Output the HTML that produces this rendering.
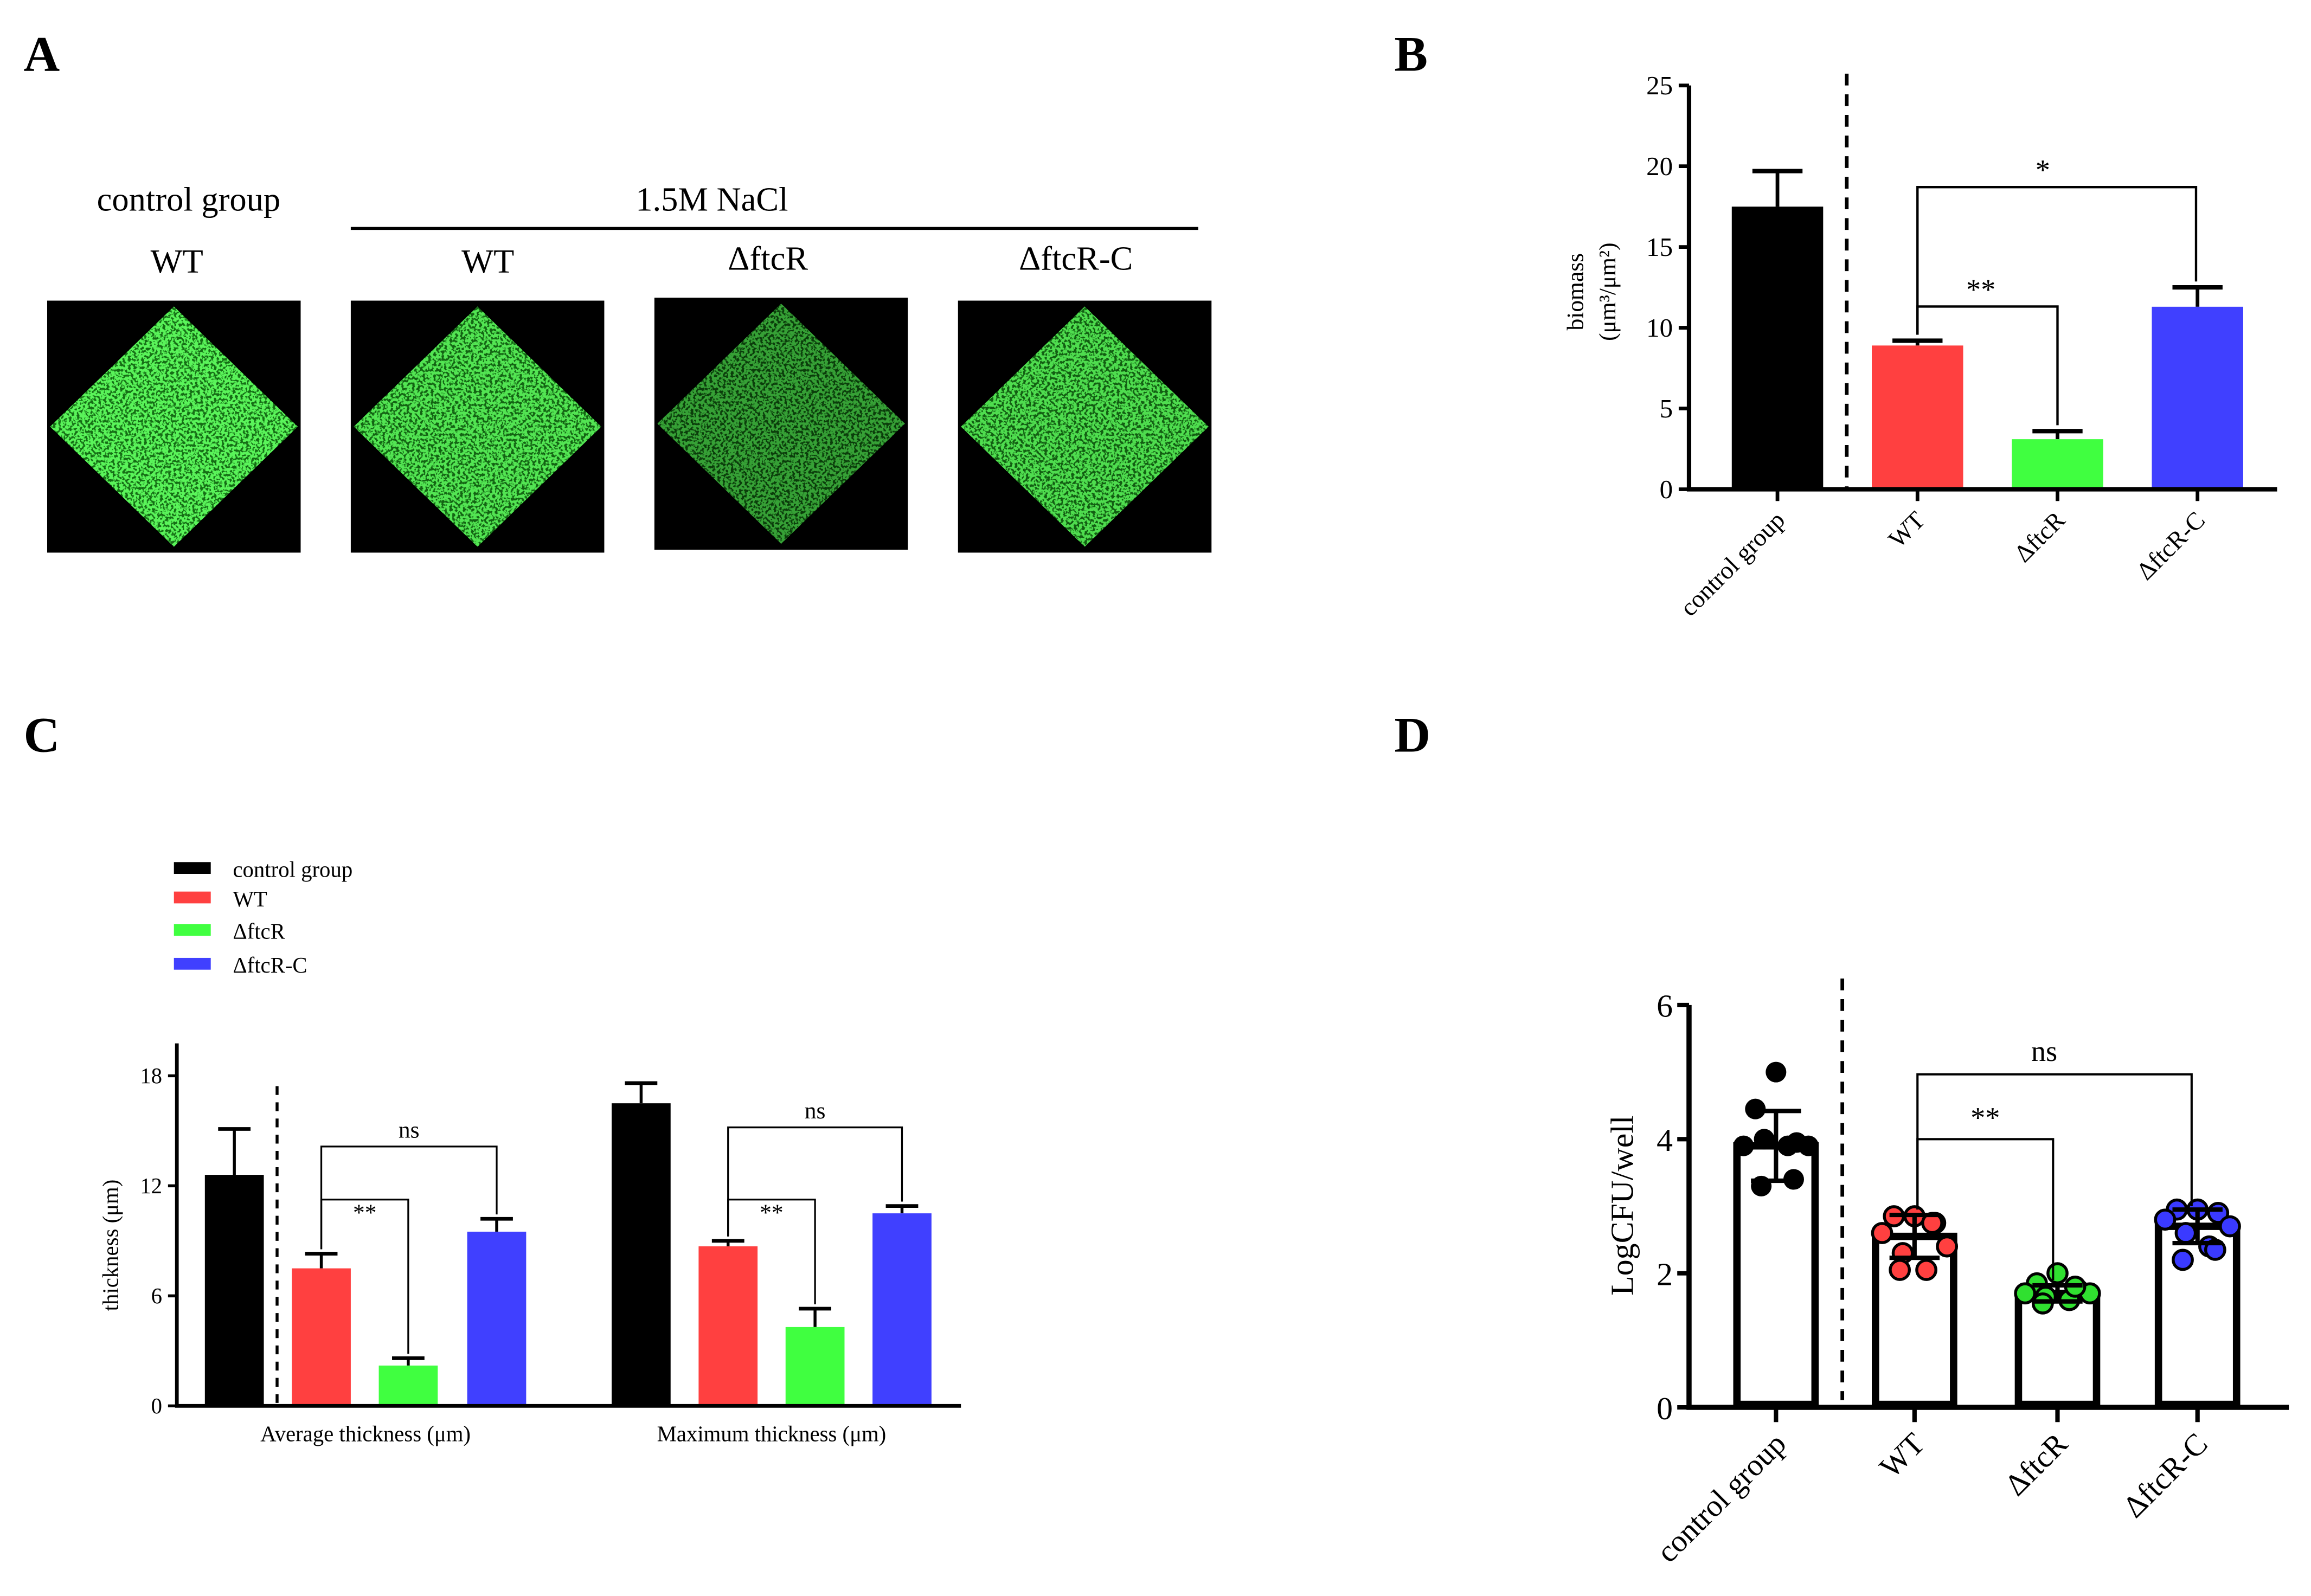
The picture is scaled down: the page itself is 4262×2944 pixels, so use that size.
<!DOCTYPE html>
<html><head><meta charset="utf-8"><style>
html,body{margin:0;padding:0;background:#fff}
svg{display:block;font-family:"Liberation Serif",serif}
</style></head><body>
<svg id="fig" width="4262" height="2944" viewBox="0 0 1568 1083" preserveAspectRatio="none" xmlns="http://www.w3.org/2000/svg">
<defs>
<filter id="speck" x="0" y="0" width="100%" height="100%">
<feTurbulence type="fractalNoise" baseFrequency="0.55" numOctaves="2" seed="3" result="n"/>
<feColorMatrix in="n" type="matrix" values="0 0 0 0 0.1  0 0 0 0 0.9  0 0 0 0 0.1  0 0 0 9 -3.6" result="g"/>
<feComposite in="g" in2="SourceGraphic" operator="in"/>
</filter>
</defs>
<g font-weight="bold" font-size="34">
<text x="16" y="48">A</text>
<text x="946" y="48">B</text>
<text x="16" y="510">C</text>
<text x="946" y="510">D</text>
</g>
<g font-size="23" text-anchor="middle">
<text x="128" y="143">control group</text>
<text x="120" y="185">WT</text>
<text x="483" y="143">1.5M NaCl</text>
<line x1="238" y1="155" x2="813" y2="155" stroke="#000" stroke-width="2"/>
<text x="331" y="185">WT</text>
<text x="521" y="183">ΔftcR</text>
<text x="730" y="183">ΔftcR-C</text>
<g id="images"></g>
</g>
<g id="pb"></g>
<g id="pc"></g>
<g id="pd"></g>
</svg>
<script>
const NS="http://www.w3.org/2000/svg";
function mk(p,tag,a,txt){const e=document.createElementNS(NS,tag);for(const k in a)e.setAttribute(k,a[k]);if(txt!==undefined)e.textContent=txt;p.appendChild(e);return e;}

// Panel A images
const imgBoxes=[[32,204],[238,204],[444,202],[650,204]];
const imgNames=['image-control-wt','image-wt','image-ftcr','image-ftcr-c'];
const imgDens=[1,0.9,0.55,0.85];
const ig=document.getElementById('images');
imgBoxes.forEach((b,i)=>{
  const x=b[0],y=b[1],w=172,h=171;
  let e=mk(ig,'rect',{x:x,y:y,width:w,height:h,fill:'#000'});
  
  
  const pts=`${x+w/2},${y+4} ${x+w-2},${y+h/2} ${x+w/2},${y+h-4} ${x+2},${y+h/2}`;
  e=mk(ig,'polygon',{points:pts,fill:'#1a8a1a','fill-opacity':imgDens[i]*0.8});
  
  
  e=mk(ig,'polygon',{points:pts,fill:'#fff',filter:'url(#speck)',opacity:imgDens[i]});
  
  
});

// ---------- Panel B data ----------
const bCats=['control group','WT','ΔftcR','ΔftcR-C'];
const bVals=[17.5,8.9,3.1,11.3];
const bErr=[19.7,9.2,3.6,12.5];
const bTicks=[0,5,10,15,20,25];
const bColors=['#000','#ff4040','#40ff40','#4040ff'];
const cColors=bColors;
(function(){
  const g=document.getElementById('pb');
  const y0=332,y1=58,ax=1146;
  const Y=v=>y0-(v/25)*(y0-y1);
  const cx=[1206,1301,1396,1491],bw=62;
  let e;
  bTicks.forEach(t=>{
    e=mk(g,'line',{x1:ax-7,x2:ax,y1:Y(t),y2:Y(t),stroke:'#000','stroke-width':2.5});
    
    
    e=mk(g,'text',{x:ax-11,y:Y(t)+6,'text-anchor':'end','font-size':18},t);
    
    
  });
  bVals.forEach((v,i)=>{
    e=mk(g,'line',{x1:cx[i],x2:cx[i],y1:Y(v),y2:Y(bErr[i]),stroke:'#000','stroke-width':2.5});
    
    
    e=mk(g,'line',{x1:cx[i]-17,x2:cx[i]+17,y1:Y(bErr[i]),y2:Y(bErr[i]),stroke:'#000','stroke-width':3});
    
    
    e=mk(g,'rect',{x:cx[i]-bw/2,y:Y(v),width:bw,height:Y(0)-Y(v),fill:bColors[i]});
    
    
    e=mk(g,'line',{x1:cx[i],x2:cx[i],y1:y0,y2:y0+8,stroke:'#000','stroke-width':2.5});
    
    
    e=mk(g,'text',{transform:`translate(${cx[i]+6},${y0+22}) rotate(-45)`,'text-anchor':'end','font-size':17},bCats[i]);
    
    
  });
  e=mk(g,'path',{d:`M${ax},${y1} V${y0} H1545`,fill:'none',stroke:'#000','stroke-width':3});
  
  
  e=mk(g,'line',{x1:1253,x2:1253,y1:50,y2:y0,stroke:'#000','stroke-width':2.5,'stroke-dasharray':'8,6'});
  
  
  e=mk(g,'path',{d:`M1301,${Y(bErr[1])-4} V127 H1490 V${Y(bErr[3])-4}`,fill:'none',stroke:'#000','stroke-width':1.6});
  
  
  e=mk(g,'text',{x:1386,y:122,'text-anchor':'middle','font-size':20},'*');
  
  
  e=mk(g,'path',{d:`M1301,${Y(bErr[1])-4} V208 H1396 V${Y(bErr[2])-4}`,fill:'none',stroke:'#000','stroke-width':1.6});
  
  
  e=mk(g,'text',{x:1344,y:203,'text-anchor':'middle','font-size':20},'**');
  
  
  e=mk(g,'text',{transform:'translate(1074,198) rotate(-90)','text-anchor':'middle','font-size':16},'biomass');
  
  
  e=mk(g,'text',{transform:'translate(1096,198) rotate(-90)','text-anchor':'middle','font-size':16},'(μm³/μm²)');
  
  
})();

// ---------- Panel C data ----------
const cGroups=['Average thickness (μm)','Maximum thickness (μm)'];
const cSeries=['control group','WT','ΔftcR','ΔftcR-C'];
const cAvg=[12.6,7.5,2.2,9.5];
const cAvgErr=[15.1,8.3,2.6,10.2];
const cMax=[16.5,8.7,4.3,10.5];
const cMaxErr=[17.6,9.0,5.3,10.9];
const cTicks=[0,6,12,18];
(function(){
  const g=document.getElementById('pc');
  const y0=954,y1=730,ax=120;
  const Y=v=>y0-(v/18)*(y0-y1);
  const bw=40;
  const gx=[[159,218,277,337],[435,494,553,612]];
  let e;
  cTicks.forEach(t=>{
    e=mk(g,'line',{x1:ax-6,x2:ax,y1:Y(t),y2:Y(t),stroke:'#000','stroke-width':2});
    
    
    e=mk(g,'text',{x:ax-10,y:Y(t)+5,'text-anchor':'end','font-size':15},t);
    
    
  });
  [[cAvg,cAvgErr],[cMax,cMaxErr]].forEach((d,gi)=>{
    d[0].forEach((v,i)=>{
      const x=gx[gi][i];
      e=mk(g,'line',{x1:x,x2:x,y1:Y(v),y2:Y(d[1][i]),stroke:'#000','stroke-width':2});
      
      
      e=mk(g,'line',{x1:x-11,x2:x+11,y1:Y(d[1][i]),y2:Y(d[1][i]),stroke:'#000','stroke-width':2.5});
      
      
      e=mk(g,'rect',{x:x-bw/2,y:Y(v),width:bw,height:Y(0)-Y(v),fill:cColors[i]});
      
      
    });
    const cxm=(gx[gi][0]+gx[gi][3])/2;
    e=mk(g,'text',{x:cxm,y:978,'text-anchor':'middle','font-size':15},cGroups[gi]);
    
    
    const a=gx[gi][1],b=gx[gi][2],c=gx[gi][3];
    const top=gi==0?778:765;
    e=mk(g,'path',{d:`M${a},${Y(d[1][1])-3} V${top} H${c} V${Y(d[1][3])-3}`,fill:'none',stroke:'#000','stroke-width':1.2});
    
    
    e=mk(g,'text',{x:(a+c)/2,y:top-6,'text-anchor':'middle','font-size':16},'ns');
    
    
    e=mk(g,'path',{d:`M${a},${Y(d[1][1])-3} V814 H${b} V${Y(d[1][2])-3}`,fill:'none',stroke:'#000','stroke-width':1.2});
    
    
    e=mk(g,'text',{x:(a+b)/2,y:828,'text-anchor':'middle','font-size':16},'**');
    
    
  });
  e=mk(g,'path',{d:`M${ax},${y1-22} V${y0} H652`,fill:'none',stroke:'#000','stroke-width':2.5});
  
  
  e=mk(g,'line',{x1:188,x2:188,y1:737,y2:y0,stroke:'#000','stroke-width':2,'stroke-dasharray':'6,5'});
  
  
  e=mk(g,'text',{transform:'translate(80,845) rotate(-90)','text-anchor':'middle','font-size':15},'thickness (μm)');
  
  
  const ly=[595,615,637,660];
  cSeries.forEach((s,i)=>{
    e=mk(g,'rect',{x:118,y:ly[i]-10,width:25,height:8,fill:cColors[i]});
    
    
    e=mk(g,'text',{x:158,y:ly[i],'font-size':15},s);
    
    
  });
})();

// ---------- Panel D data ----------
const dCats=['control group','WT','ΔftcR','ΔftcR-C'];
const dMeans=[3.9,2.55,1.7,2.7];
const dSD=[0.52,0.32,0.12,0.25];
const dPts0=[5.0,4.45,3.95,3.9,3.9,4.0,3.9,3.3,3.4];
const dPts1=[2.85,2.85,2.75,2.6,2.4,2.3,2.05,2.05,2.75];
const dPts2=[2.0,1.85,1.75,1.7,1.7,1.65,1.6,1.55,1.8];
const dPts3=[2.95,2.95,2.9,2.8,2.7,2.6,2.4,2.2,2.35];
const dTicks=[0,2,4,6];
(function(){
  const g=document.getElementById('pd');
  const y0=955,y1=682,ax=1146;
  const Y=v=>y0-(v/6)*(y0-y1);
  const cx=[1205,1299,1396,1491],bw=53;
  const pts=[dPts0,dPts1,dPts2,dPts3];
  const fills=['#000','#ff4040','#30e030','#3a3aff'];
  const jit=[0,-14,14,-22,22,-8,8,-10,12];
  let e;
  dTicks.forEach(t=>{
    e=mk(g,'line',{x1:ax-8,x2:ax,y1:Y(t),y2:Y(t),stroke:'#000','stroke-width':3});
    
    
    e=mk(g,'text',{x:ax-11,y:Y(t)+8,'text-anchor':'end','font-size':22},t);
    
    
  });
  dMeans.forEach((m,i)=>{
    e=mk(g,'rect',{x:cx[i]-bw/2,y:Y(m),width:bw,height:Y(0)-Y(m)-2,fill:'#fff',stroke:'#000','stroke-width':5});
    
    
  });
  pts.forEach((arr,i)=>{
    arr.forEach((v,j)=>{
      e=mk(g,'circle',{cx:cx[i]+jit[j],cy:Y(v),r:i==0?7:6.5,fill:fills[i],stroke:'#000','stroke-width':i==0?0:2});
      
      
    });
  });
  dMeans.forEach((m,i)=>{
    const hi=Y(m+dSD[i]),lo=Y(m-dSD[i]);
    e=mk(g,'line',{x1:cx[i],x2:cx[i],y1:hi,y2:lo,stroke:'#000','stroke-width':3});
    
    
    e=mk(g,'path',{d:`M${cx[i]-17},${hi} H${cx[i]+17} M${cx[i]-17},${lo} H${cx[i]+17}`,stroke:'#000','stroke-width':3});
    
    
    e=mk(g,'line',{x1:cx[i],x2:cx[i],y1:y0,y2:y0+10,stroke:'#000','stroke-width':3});
    
    
    e=mk(g,'text',{transform:`translate(${cx[i]+8},${y0+26}) rotate(-45)`,'text-anchor':'end','font-size':21},dCats[i]);
    
    
  });
  e=mk(g,'path',{d:`M${ax},${y1} V${y0} H1553`,fill:'none',stroke:'#000','stroke-width':3.5});
  
  
  e=mk(g,'line',{x1:1250,x2:1250,y1:664,y2:y0-5,stroke:'#000','stroke-width':2.5,'stroke-dasharray':'8,6'});
  
  
  e=mk(g,'path',{d:`M1301,${Y(2.95)} V729 H1487 V${Y(3.0)}`,fill:'none',stroke:'#000','stroke-width':1.5});
  
  
  e=mk(g,'text',{x:1387,y:720,'text-anchor':'middle','font-size':20},'ns');
  
  
  e=mk(g,'path',{d:`M1301,${Y(2.95)} V773 H1393 V${Y(1.9)}`,fill:'none',stroke:'#000','stroke-width':1.5});
  
  
  e=mk(g,'text',{x:1347,y:765,'text-anchor':'middle','font-size':20},'**');
  
  
  e=mk(g,'text',{transform:'translate(1108,818) rotate(-90)','text-anchor':'middle','font-size':22},'LogCFU/well');
  
  
})();
</script>
</body></html>
